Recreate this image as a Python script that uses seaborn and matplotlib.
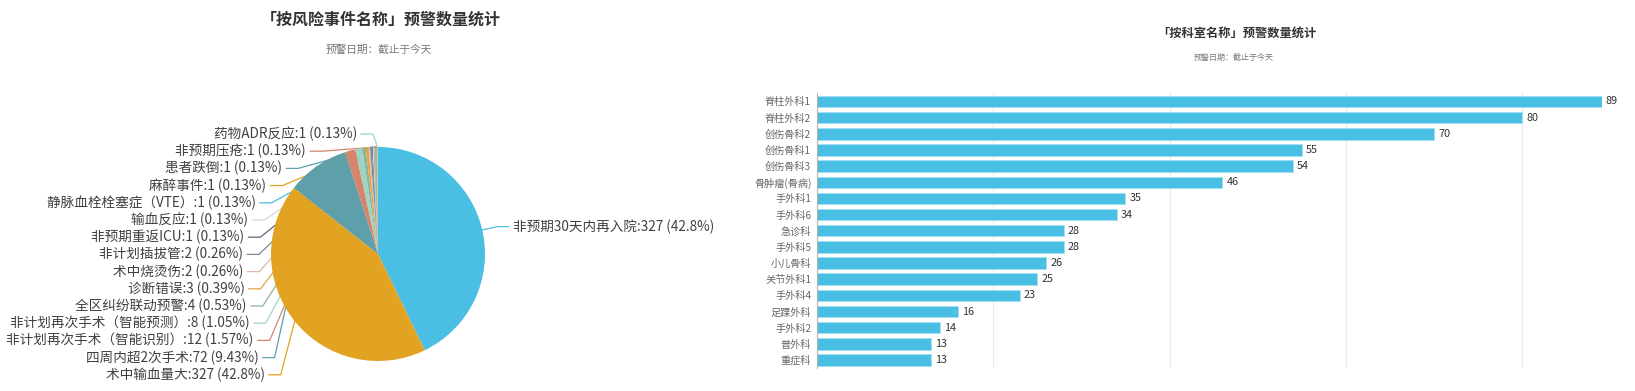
import numpy as np
import pandas as pd
import seaborn as sns
import matplotlib.pyplot as plt

sns.set_style("white")
plt.rcParams['font.family'] = ['Noto Sans CJK SC', 'DejaVu Sans']

# ---- data ----
risk_names = ["非预期30天内再入院", "术中输血量大", "四周内超2次手术",
              "非计划再次手术（智能识别）", "非计划再次手术（智能预测）", "全区纠纷联动预警",
              "诊断错误", "术中烧烫伤", "非计划插拔管", "非预期重返ICU", "输血反应",
              "静脉血栓栓塞症（VTE）", "麻醉事件", "患者跌倒", "非预期压疮", "药物ADR反应"]
risk_counts = [327, 327, 72, 12, 8, 4, 3, 2, 2, 1, 1, 1, 1, 1, 1, 1]

dept_names = ["脊柱外科1", "脊柱外科2", "创伤骨科2", "创伤骨科1", "创伤骨科3", "骨肿瘤(骨病)",
              "手外科1", "手外科6", "急诊科", "手外科5", "小儿骨科", "关节外科1", "手外科4",
              "足踝外科", "手外科2", "普外科", "重症科"]
dept_counts = [89, 80, 70, 55, 54, 46, 35, 34, 28, 28, 26, 25, 23, 16, 14, 13, 13]

palette = ["#4bbfe3", "#e2a322", "#5f9fa9", "#d6846c", "#9fd4c2", "#8db59e",
           "#e3a444", "#dcb9a9", "#7e8b98", "#5b6878", "#cfd6dc"]


def percents(vals, digits=2):
    # largest remainder, like echarts
    scale = 10 ** digits
    raw = np.array(vals, dtype=float) / sum(vals) * 100 * scale
    base = np.floor(raw)
    rest = int(round(100 * scale - base.sum()))
    order = np.argsort(-(raw - base), kind='stable')
    base[order[:rest]] += 1
    return base / scale


def fmt(p):
    return f"{p:.2f}".rstrip("0").rstrip(".") + "%"


W, H = 1635, 391
fig = plt.figure(figsize=(W / 100, H / 100), dpi=100)
ax = fig.add_axes([0, 0, 1, 1])

cx, cy, R = 378, 254, 107
colors = [palette[i % len(palette)] for i in range(len(risk_counts))]
ax.pie(risk_counts, colors=colors, center=(cx, cy), radius=R, startangle=-90,
       counterclock=True, wedgeprops=dict(linewidth=0), frame=True)
ax.set_xlim(0, W)
ax.set_ylim(H, 0)
ax.axis('off')

fracs = np.array(risk_counts) / sum(risk_counts)
mids = np.deg2rad(-90 + 360 * (np.cumsum(fracs) - fracs / 2))
pct = percents(risk_counts)
labels = [f"{n}:{v} ({fmt(p)})" for n, v, p in zip(risk_names, risk_counts, pct)]
lab_kw = dict(fontsize=9.8, color='#404040', va='center')

# right side label (biggest slice)
ex, ey = cx + R * np.cos(mids[0]), cy + R * np.sin(mids[0])
px, py = cx + (R + 15) * np.cos(mids[0]), cy + (R + 15) * np.sin(mids[0])
ax.plot([ex, px, px + 12], [ey, py, py], color=colors[0], lw=0.9, zorder=0.5)
ax.text(px + 16, py, labels[0], ha='left', **lab_kw)

# left side labels, stacked
rA, rB_top, rB_bot = 135, 121.5, 222
left_idx = list(range(len(risk_counts) - 1, 0, -1))
for k, i in enumerate(left_idx):
    y = 134 + k * 17.2
    dy = y - cy
    rB = rB_top if dy < 0 else rB_bot
    end = cx - rA * np.sqrt(max(0.0, 1 - (dy / rB) ** 2))
    ex, ey = cx + R * np.cos(mids[i]), cy + R * np.sin(mids[i])
    ax.plot([end + 4, end + 16, ex], [y, y, ey], color=colors[i], lw=0.9, zorder=0.5)
    ax.text(end, y, labels[i], ha='right', **lab_kw)

# titles
ax.text(381, 20, "「按风险事件名称」预警数量统计", ha='center', va='center',
        fontsize=11.5, fontweight='bold', color='#333333')
ax.text(379, 50, "预警日期：截止于今天", ha='center', va='center', fontsize=7.7, color='#777777')
ax.text(1237, 33, "「按科室名称」预警数量统计", ha='center', va='center',
        fontsize=8.8, fontweight='bold', color='#333333')
ax.text(1234, 57, "预警日期：截止于今天", ha='center', va='center', fontsize=5.8, color='#777777')

# ---- bar chart ----
left, right, top, bottom = 816.7, 1601.7, 93.4, 368.1
bx = fig.add_axes([left / W, (H - bottom) / H, (right - left) / W, (bottom - top) / H])
df = pd.DataFrame({"科室": dept_names, "数量": dept_counts})
sns.barplot(data=df, x="数量", y="科室", color="#49bfe3", saturation=1, width=0.71,
            edgecolor="#a3ddf1", linewidth=0.7, ax=bx)
bx.set_xlim(0, 89)
bx.set_ylim(len(dept_names) - 0.5, -0.5)
bx.set_xticks([20, 40, 60, 80])
bx.set_xticklabels([])
bx.tick_params(axis='x', length=0)
bx.grid(axis='x', color='#e8edf3', lw=0.8)
bx.set_axisbelow(True)
bx.set_xlabel('')
bx.set_ylabel('')
for s in ['top', 'right', 'bottom']:
    bx.spines[s].set_visible(False)
bx.spines['left'].set_color('#b5b5b5')
bx.spines['left'].set_linewidth(0.8)
bx.set_yticks(np.arange(-0.5, len(dept_names), 1), minor=True)
bx.tick_params(axis='y', which='major', length=0, pad=4, labelsize=7.3, labelcolor='#666666')
bx.tick_params(axis='y', which='minor', length=4, color='#b5b5b5', width=0.8)
bx.bar_label(bx.containers[0], padding=3, fontsize=7.8, color='#333333')
bx.patch.set_alpha(0)

fig.savefig("out.png", dpi=100)
